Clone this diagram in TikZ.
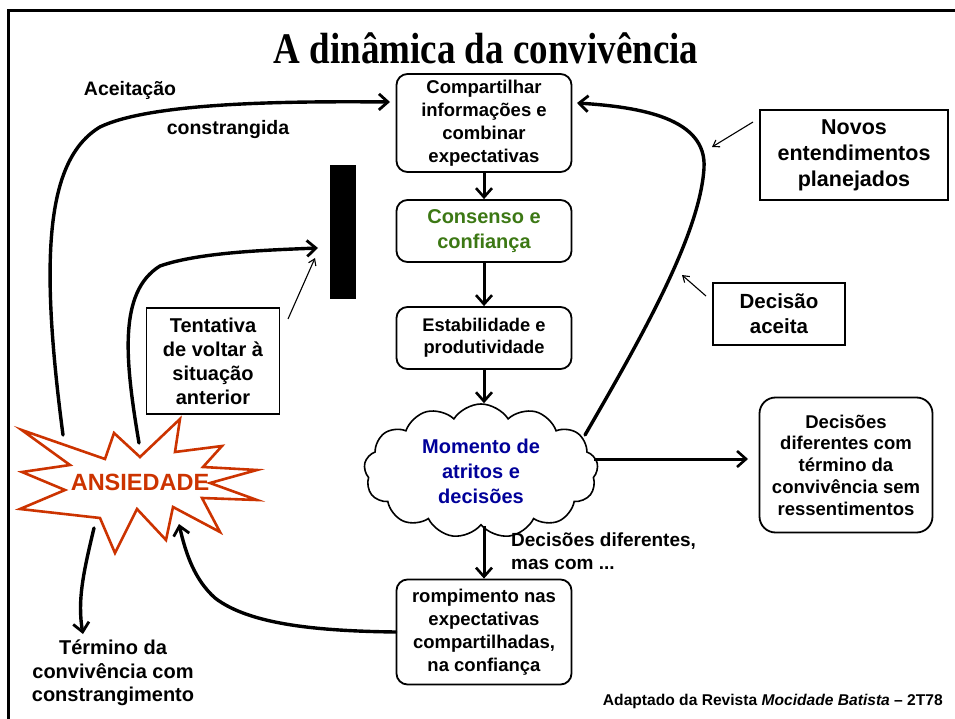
\documentclass[tikz,border=0pt]{standalone}
\usepackage{fontspec}
\setmainfont{Liberation Sans}
\newfontfamily\titlefont{Liberation Serif}
\usetikzlibrary{arrows.meta,shapes.symbols}
\definecolor{cgreen}{RGB}{60,120,20}
\definecolor{cblue}{RGB}{0,0,153}
\definecolor{cred}{RGB}{204,51,0}
\tikzset{
  rbox/.style={draw,line width=1.8pt,rounded corners=11pt,align=center,inner sep=0pt,font=\bfseries},
  sbox/.style={draw,line width=1.8pt,align=center,inner sep=0pt,font=\bfseries},
  lbl/.style={align=center,inner sep=0pt,font=\bfseries},
  flow/.style={line width=3pt,-{Straight Barb[length=9pt,width=16pt,line width=2.6pt]}},
  curv/.style={line width=3.4pt,line cap=round,-{Straight Barb[length=9pt,width=16pt,line width=2.8pt]}},
  thinarr/.style={line width=1.1pt,-{Straight Barb[length=6pt,width=8pt]}},
  fs/.style n args={2}{font=\bfseries\fontsize{#1}{#2}\selectfont}
}
\begin{document}
\begin{tikzpicture}[x=1pt,y=-1pt]
\useasboundingbox (0,0) rectangle (955,719);
% frame
\draw[line width=2.6pt] (8.5,722) -- (8.5,10.5) -- (958,10.5);
% title
\node[inner sep=0pt] (title) at (486,48) {\titlefont\bfseries\fontsize{37}{40}\selectfont\scalebox{1}[1.18]{A dinâmica da convivência}};

% central boxes
\node[rbox,minimum width=175pt,minimum height=98pt,fs={18.5}{23}] (comp) at (484,123) {Compartilhar\\informações e\\combinar\\expectativas};
\node[rbox,minimum width=175pt,minimum height=62pt,fs={20}{25},text=cgreen] (cons) at (484,231) {Consenso e\\confiança};
\node[rbox,minimum width=175pt,minimum height=62pt,fs={18.3}{22}] (estab) at (484,338) {Estabilidade e\\produtividade};
\node[cloud,draw,line width=1.6pt,cloud puffs=13,cloud puff arc=115,cloud ignores aspect,minimum width=234pt,minimum height=134pt,inner sep=0pt,align=center,fs={20}{25},text=cblue] (cloud) at (481,471) {Momento de\\atritos e\\decisões};
\node[rbox,minimum width=175pt,minimum height=105pt,fs={18.5}{23}] (romp) at (484,632) {rompimento nas\\expectativas\\compartilhadas,\\na confiança};

% right boxes
\node[rbox,rounded corners=16pt,minimum width=173pt,minimum height=135pt,fs={18.5}{21.7}] (dec) at (846,465) {Decisões\\diferentes com\\término da\\convivência sem\\ressentimentos};
\node[sbox,minimum width=188pt,minimum height=90pt,fs={21.5}{26}] (novos) at (854,155) {Novos\\entendimentos\\planejados};
\node[sbox,minimum width=132pt,minimum height=62pt,fs={20.5}{25}] (aceita) at (779,314) {Decisão\\aceita};

% left
\node[sbox,minimum width=133pt,minimum height=106pt,fs={20}{24}] (tent) at (213,361) {Tentativa\\de voltar à\\situação\\anterior};
\node[fill=black,minimum width=26pt,minimum height=134pt,inner sep=0pt] (bar) at (343,232) {};

% starburst
\draw[cred,line width=2.6pt,line join=miter,fill=white]
 (21.7,430) -- (105,459) -- (114,433) -- (140,457) -- (180,419) -- (175,452) -- (222,446) -- (203,467) -- (257,470) -- (210,483) -- (257,500) -- (202,498) -- (220,532) -- (173,507) -- (166,540) -- (137,509) -- (115,553) -- (100,518) -- (20,509) -- (65,490) -- (22,472) -- (70,465) -- cycle;
\node[lbl,text=cred,fs={23.5}{26}] (ans) at (140,482) {ANSIEDADE};

% labels
\node[lbl,fs={19.5}{23}] (lacc) at (130,90) {Aceitação};
\node[lbl,fs={19.5}{23}] (lcon) at (228,130) {constrangida};
\node[lbl,align=left,anchor=west,fs={19}{23}] (ldd) at (511,551) {Decisões diferentes,\\mas com ...};
\node[lbl,fs={20}{23.5}] (lterm) at (113,673) {Término da\\convivência com\\constrangimento};
\node[lbl,anchor=east,fs={15.6}{18}] (foot) at (943,701) {Adaptado da Revista \textit{Mocidade Batista} – 2T78};

% coordinates for free ends / attachment points
\coordinate (accEnd) at (390,102);
\coordinate (accStart) at (63,435);
\coordinate (tenStart) at (139,443);
\coordinate (barEnd) at (318,248);
\coordinate (cloudNE) at (585,435);
\coordinate (compE) at (577,103);
\coordinate (decEnd) at (748,459);
\coordinate (cloudE) at (594,459);
\coordinate (ansIn) at (179,524);
\coordinate (ansOut) at (94,528);
\coordinate (termEnd) at (83,634);

% flow arrows
\draw[flow] (comp.south) -- (cons.north);
\draw[flow] (cons.south) -- (estab.north);
\draw[flow] (estab.south) -- (cloud.north -| estab.south);
\draw[flow] (cloud.south -| romp.north) -- (romp.north);
\draw[flow] (cloudE) -- (decEnd);

% curves
\draw[curv] (cloudNE) .. controls (640,340) and (700,235) .. (704,168) .. controls (707,118) and (640,107) .. (compE);
\draw[curv] (accStart) .. controls (40,260) and (45,160) .. (100,127) .. controls (150,103) and (280,101) .. (accEnd);
\draw[curv] (tenStart) .. controls (125,360) and (118,292) .. (160,266) .. controls (200,252) and (270,250) .. (barEnd);
\draw[curv] (romp.west) .. controls (320,631) and (250,625) .. (215,598) .. controls (195,580) and (186,555) .. (ansIn);
\draw[curv] (ansOut) .. controls (84,570) and (77,600) .. (termEnd);

% thin arrows
\draw[thinarr] (753,122) -- (712,147);
\draw[thinarr] (706,296) -- (682,275);
\draw[thinarr] (288,319) -- (315,258);
\end{tikzpicture}
\end{document}
